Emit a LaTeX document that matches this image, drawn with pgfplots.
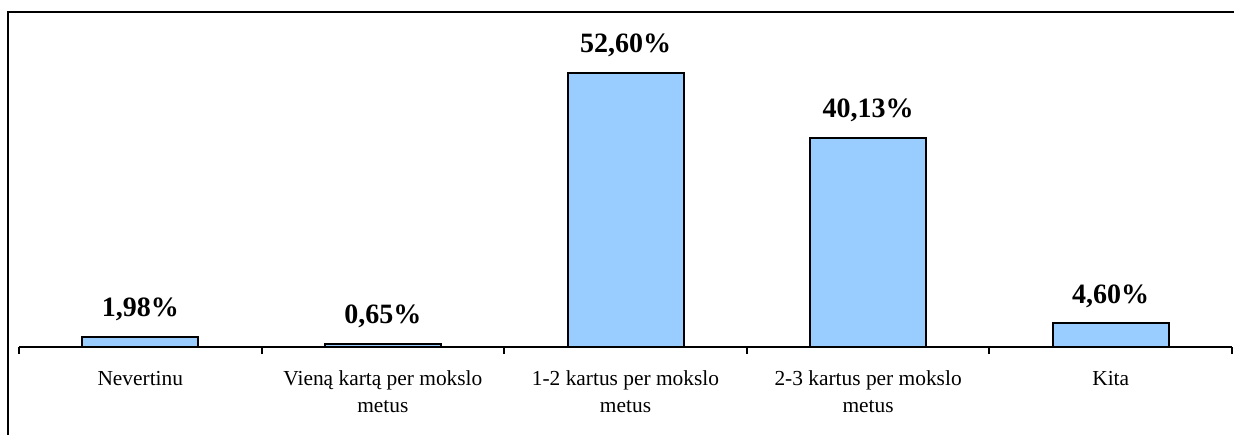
\documentclass[border=0pt]{standalone}
\usepackage{fontspec}
\setmainfont{Liberation Serif}
\usepackage{pgfplots}
\pgfplotsset{compat=1.18}
\definecolor{barblue}{HTML}{99CCFF}
\begin{document}
\begin{tikzpicture}
\useasboundingbox (-9.5pt,-43.5pt) rectangle (607.5pt,173.5pt);
\clip (-9.5pt,-43.5pt) rectangle (607.5pt,173.5pt);
\begin{axis}[
    at={(0,0)}, anchor=south west,
    scale only axis,
    width=606.5pt, height=156.3pt,
    xmin=-0.5, xmax=4.5,
    ymin=0, ymax=60,
    axis x line*=bottom,
    axis y line=none,
    axis line style={line width=1pt},
    clip=false,
    xtick={0,1,2,3,4},
    xticklabels={Nevertinu,
        {Vieną kartą per mokslo\\metus},
        {1-2 kartus per mokslo\\metus},
        {2-3 kartus per mokslo\\metus},
        Kita},
    major tick length=0pt,
    extra x ticks={-0.5,0.5,1.5,2.5,3.5,4.5},
    extra x tick labels={},
    extra x tick style={major tick length=3.5pt, tick align=outside,
        tick style={line width=1pt, black}},
    xticklabel style={font=\fontsize{10.7}{13.5}\selectfont, align=center,
        inner sep=0pt, anchor=north, yshift=-11.8pt},
    ybar, bar width=58pt,
    nodes near coords,
    point meta=explicit symbolic,
    every node near coord/.append style={font=\fontsize{14}{16}\selectfont\bfseries,
        anchor=base, inner sep=0pt, yshift=10pt},
]
\addplot[fill=barblue, draw=black, line width=1pt] coordinates {
    (0,1.98) [1,98\%]
    (1,0.65) [0,65\%]
    (2,52.60) [52,60\%]
    (3,40.13) [40,13\%]
    (4,4.60) [4,60\%]
};
\end{axis}
\draw[line width=1.25pt] (-5.4pt,-60pt) -- (-5.4pt,167.4pt) -- (650pt,167.4pt);
\end{tikzpicture}
\end{document}
